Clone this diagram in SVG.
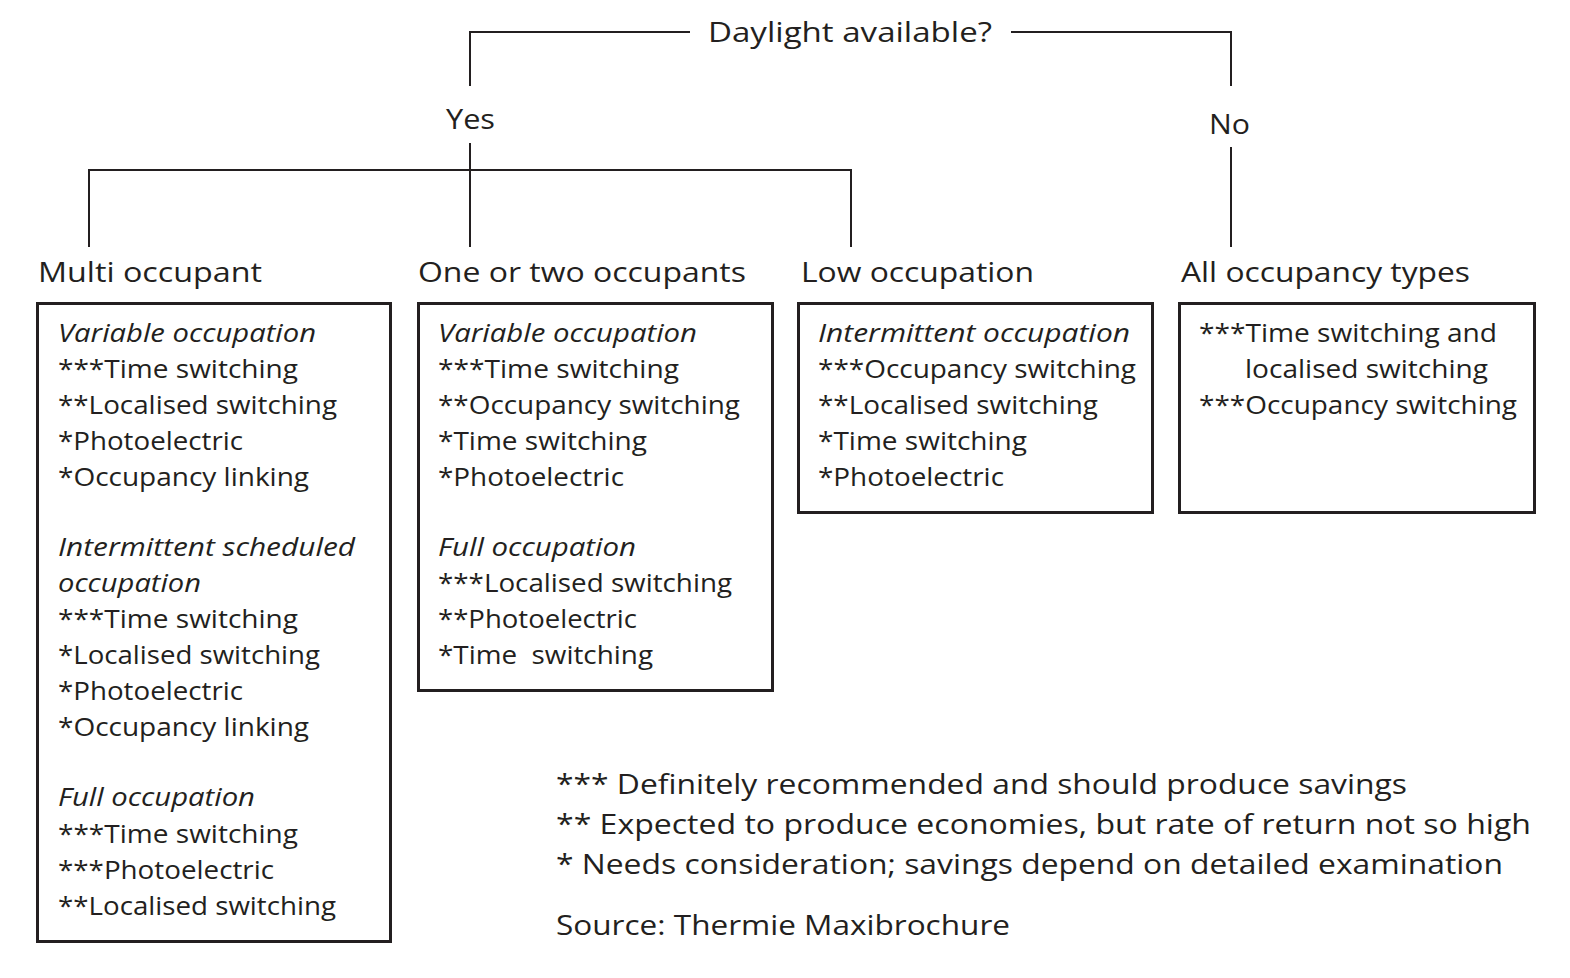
<svg xmlns="http://www.w3.org/2000/svg" width="1570" height="978" viewBox="0 0 1570 978">
<style>
text{font-family:"Open Sans","Noto Sans","DejaVu Sans",sans-serif;fill:#231f20}
.h{font-size:28px}
.l{font-size:27px}
.t{font-size:26px}
.i{font-style:italic}
.box{fill:#fff;stroke:#231f20;stroke-width:3}
.c{fill:none;stroke:#231f20;stroke-width:2}
</style>
<rect width="1570" height="978" fill="#fff"/>
<g id="connectors">
<polyline class="c" points="690,32 470,32 470,86"/>
<polyline class="c" points="1011,32 1231,32 1231,86"/>
<line class="c" x1="470" y1="143" x2="470" y2="247"/>
<polyline class="c" points="89,247 89,170 851,170 851,247"/>
<line class="c" x1="1231" y1="147" x2="1231" y2="247"/>
</g>
<g id="question"><text class="h" x="708" y="42" textLength="284" lengthAdjust="spacingAndGlyphs">Daylight available?</text></g>
<g id="yes"><text class="h" x="446" y="129" textLength="49" lengthAdjust="spacingAndGlyphs">Yes</text></g>
<g id="no"><text class="h" x="1209" y="134" textLength="41" lengthAdjust="spacingAndGlyphs">No</text></g>
<g id="multi">
<text class="h" x="38" y="282" textLength="224" lengthAdjust="spacingAndGlyphs">Multi occupant</text>
<rect class="box" x="37.5" y="303.5" width="353" height="638"/>
<text class="t i" x="58" y="342" textLength="258" lengthAdjust="spacingAndGlyphs">Variable occupation</text>
<text class="t" x="58" y="378" textLength="240" lengthAdjust="spacingAndGlyphs">***Time switching</text>
<text class="t" x="58" y="414" textLength="279" lengthAdjust="spacingAndGlyphs">**Localised switching</text>
<text class="t" x="58" y="450" textLength="185" lengthAdjust="spacingAndGlyphs">*Photoelectric</text>
<text class="t" x="58" y="486" textLength="251" lengthAdjust="spacingAndGlyphs">*Occupancy linking</text>
<text class="t i" x="58" y="556" textLength="297" lengthAdjust="spacingAndGlyphs">Intermittent scheduled</text>
<text class="t i" x="58" y="592" textLength="143" lengthAdjust="spacingAndGlyphs">occupation</text>
<text class="t" x="58" y="628" textLength="240" lengthAdjust="spacingAndGlyphs">***Time switching</text>
<text class="t" x="58" y="664" textLength="262" lengthAdjust="spacingAndGlyphs">*Localised switching</text>
<text class="t" x="58" y="700" textLength="185" lengthAdjust="spacingAndGlyphs">*Photoelectric</text>
<text class="t" x="58" y="736" textLength="251" lengthAdjust="spacingAndGlyphs">*Occupancy linking</text>
<text class="t i" x="58" y="806" textLength="197" lengthAdjust="spacingAndGlyphs">Full occupation</text>
<text class="t" x="58" y="843" textLength="240" lengthAdjust="spacingAndGlyphs">***Time switching</text>
<text class="t" x="58" y="879" textLength="216" lengthAdjust="spacingAndGlyphs">***Photoelectric</text>
<text class="t" x="58" y="915" textLength="278" lengthAdjust="spacingAndGlyphs">**Localised switching</text>
</g>
<g id="one-two">
<text class="h" x="418" y="282" textLength="328" lengthAdjust="spacingAndGlyphs">One or two occupants</text>
<rect class="box" x="418.5" y="303.5" width="354" height="387"/>
<text class="t i" x="438" y="342" textLength="259" lengthAdjust="spacingAndGlyphs">Variable occupation</text>
<text class="t" x="438" y="378" textLength="241" lengthAdjust="spacingAndGlyphs">***Time switching</text>
<text class="t" x="438" y="414" textLength="302" lengthAdjust="spacingAndGlyphs">**Occupancy switching</text>
<text class="t" x="438" y="450" textLength="209" lengthAdjust="spacingAndGlyphs">*Time switching</text>
<text class="t" x="438" y="486" textLength="186" lengthAdjust="spacingAndGlyphs">*Photoelectric</text>
<text class="t i" x="438" y="556" textLength="198" lengthAdjust="spacingAndGlyphs">Full occupation</text>
<text class="t" x="438" y="592" textLength="294" lengthAdjust="spacingAndGlyphs">***Localised switching</text>
<text class="t" x="438" y="628" textLength="199" lengthAdjust="spacingAndGlyphs">**Photoelectric</text>
<text class="t" x="438" y="664" xml:space="preserve" textLength="215" lengthAdjust="spacingAndGlyphs">*Time  switching</text>
</g>
<g id="low">
<text class="h" x="801" y="282" textLength="233" lengthAdjust="spacingAndGlyphs">Low occupation</text>
<rect class="box" x="798.5" y="303.5" width="354" height="209"/>
<text class="t i" x="818" y="342" textLength="312" lengthAdjust="spacingAndGlyphs">Intermittent occupation</text>
<text class="t" x="818" y="378" textLength="318" lengthAdjust="spacingAndGlyphs">***Occupancy switching</text>
<text class="t" x="818" y="414" textLength="280" lengthAdjust="spacingAndGlyphs">**Localised switching</text>
<text class="t" x="818" y="450" textLength="209" lengthAdjust="spacingAndGlyphs">*Time switching</text>
<text class="t" x="818" y="486" textLength="186" lengthAdjust="spacingAndGlyphs">*Photoelectric</text>
</g>
<g id="all">
<text class="h" x="1181" y="282" textLength="289" lengthAdjust="spacingAndGlyphs">All occupancy types</text>
<rect class="box" x="1179.5" y="303.5" width="355" height="209"/>
<text class="t" x="1199" y="342" textLength="298" lengthAdjust="spacingAndGlyphs">***Time switching and</text>
<text class="t" x="1245" y="378" textLength="243" lengthAdjust="spacingAndGlyphs">localised switching</text>
<text class="t" x="1199" y="414" textLength="318" lengthAdjust="spacingAndGlyphs">***Occupancy switching</text>
</g>
<g id="legend">
<text class="l" x="556" y="794" textLength="851" lengthAdjust="spacingAndGlyphs">*** Definitely recommended and should produce savings</text>
<text class="l" x="556" y="834" textLength="975" lengthAdjust="spacingAndGlyphs">** Expected to produce economies, but rate of return not so high</text>
<text class="l" x="556" y="874" textLength="947" lengthAdjust="spacingAndGlyphs">* Needs consideration; savings depend on detailed examination</text>
<text class="l" x="556" y="935" textLength="454" lengthAdjust="spacingAndGlyphs">Source: Thermie Maxibrochure</text>
</g>
</svg>
